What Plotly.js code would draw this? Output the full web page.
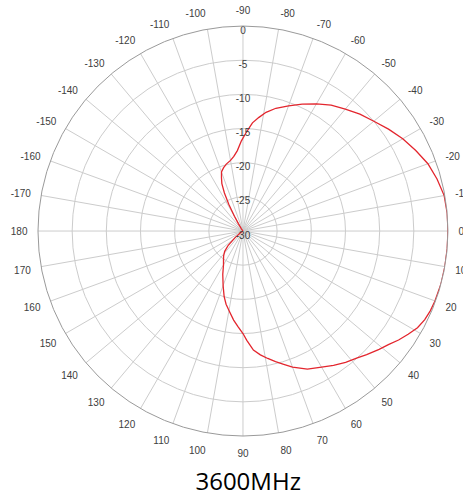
<!DOCTYPE html>
<html>
<head>
<meta charset="utf-8">
<script src="https://cdn.plot.ly/plotly-3.0.1.min.js"></script>
<style>html,body{margin:0;padding:0;background:#fff;}#chart{width:463px;height:501px;}</style>
</head>
<body>
<div id="chart"></div>
<script>
// Pattern angles (degrees, 0 = right, clockwise positive) and gain (dB)
var thetaDeg = [-180,-170,-160,-150,-140,-130,-125,-122,-120,-118,-116,-114,-112,-110,-107,-104,-100,-97,-94,-91,-88,-85,-82,-79,-75,-70,-65,-60,-55,-50,-45,-40,-35,-30,-25,-20,-15,-10,-5,0,5,10,15,20,23,26,29,32,35,38,41,45,48,52,56,60,65,70,73,76,79,82,85,88,90,93,96,100,103,106,110,115,120,124,128,132,136,140,145,150,160,170,180];
var gainDb = [-30,-30,-30,-30,-30,-30,-29.6,-28.8,-27.5,-25.6,-23.8,-22.4,-21.6,-20.8,-20.3,-19.9,-19.5,-19.0,-18.2,-16.8,-15.5,-14.1,-13.2,-12.3,-11.4,-10.5,-9.5,-8.5,-7.5,-6.7,-5.8,-5.0,-4.0,-3.0,-2.1,-1.2,-0.6,-0.1,0,0,0,0,0,-0.1,-0.2,-0.4,-0.8,-1.5,-2.2,-3.0,-3.6,-4.4,-5.0,-5.6,-6.3,-7.0,-7.7,-8.8,-9.6,-10.3,-11.0,-11.7,-12.5,-14.0,-15.0,-16.0,-16.9,-18.2,-19.0,-20.0,-21.5,-23.0,-24.3,-24.9,-25.4,-26.0,-27.0,-28.5,-29.5,-30,-30,-30,-30];

var angTickVals = [0,10,20,30,40,50,60,70,80,90,100,110,120,130,140,150,160,170,180,190,200,210,220,230,240,250,260,270,280,290,300,310,320,330,340,350];
var angTickText = ["0","10","20","30","40","50","60","70","80","90","100","110","120","130","140","150","160","170","180","-170","-160","-150","-140","-130","-120","-110","-100","-90","-80","-70","-60","-50","-40","-30","-20","-10"];
var radTickVals = [-30,-25,-20,-15,-10,-5,0];
var radTickText = ["-30","-25","-20","-15","-10","-5","0"];
var radLabelTheta = radTickVals.map(function(){ return 270; });
var titleText = "3600MHz";

var trace = {
  type: 'scatterpolar',
  mode: 'lines',
  theta: thetaDeg,
  r: gainDb,
  line: {color: '#e3262e', width: 1.3},
  hoverinfo: 'skip'
};

// radial scale labels, centered on the vertical (-90) spoke like the reference
var radLabels = {
  type: 'scatterpolar',
  mode: 'text',
  theta: radLabelTheta,
  r: radTickVals,
  text: radTickText,
  textposition: 'bottom center',
  textfont: {family: 'Liberation Sans, Arial, sans-serif', size: 10, color: '#404040'},
  hoverinfo: 'skip',
  cliponaxis: false
};

var layout = {
  width: 463, height: 501,
  margin: {l: 0, r: 0, t: 0, b: 0},
  paper_bgcolor: '#fff',
  showlegend: false,
  font: {family: 'Liberation Sans, Arial, sans-serif', size: 10, color: '#404040'},
  title: {
    text: titleText,
    font: {family: 'Open Sans, sans-serif', size: 24, color: '#000'},
    x: 0.536, xref: 'paper', xanchor: 'center',
    y: 0.038, yref: 'container', yanchor: 'middle'
  },
  polar: {
    domain: {x: [0.082, 0.9676], y: [0.1297, 0.948]},
    bgcolor: '#fff',
    angularaxis: {
      rotation: 0,
      direction: 'clockwise',
      thetaunit: 'degrees',
      tickmode: 'array',
      tickvals: angTickVals,
      ticktext: angTickText,
      ticks: 'outside',
      ticklen: 8,
      tickcolor: 'rgba(0,0,0,0)',
      showgrid: true,
      gridcolor: '#cccccc',
      gridwidth: 1,
      showline: true,
      linecolor: '#9a9a9a',
      linewidth: 1,
      tickfont: {size: 10, color: '#404040'}
    },
    radialaxis: {
      range: [-30, 0],
      angle: 90,
      tickmode: 'array',
      tickvals: radTickVals,
      ticks: '',
      showticklabels: false,
      showline: false,
      showgrid: true,
      gridcolor: '#cccccc',
      gridwidth: 1
    }
  }
};

Plotly.newPlot('chart', [trace, radLabels], layout, {staticPlot: true, displayModeBar: false});
</script>
</body>
</html>
